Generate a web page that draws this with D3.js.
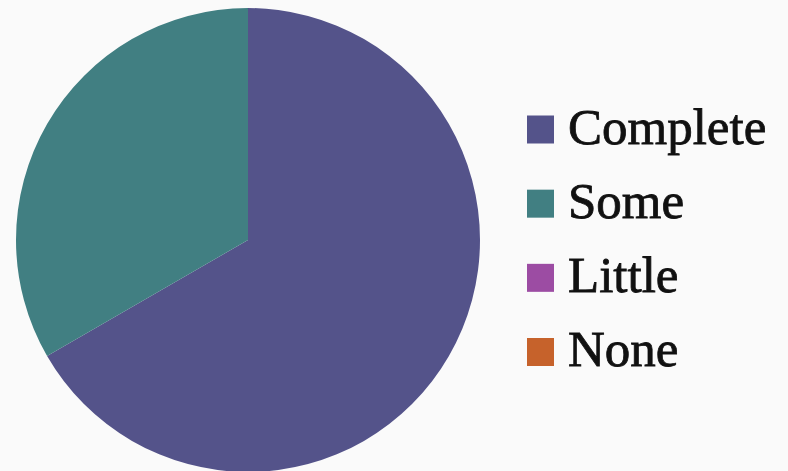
<!DOCTYPE html>
<html><head><meta charset="utf-8">
<script src="https://cdn.jsdelivr.net/npm/d3@7"></script>
<style>html,body{margin:0;padding:0;background:#fafafa;}svg{display:block;}</style>
</head><body>
<svg id="chart" width="788" height="471"></svg>
<script>
const categories = ["Complete", "Some", "Little", "None"];
const values = [2, 1, 0, 0];
const colors = ["#54538a", "#417f82", "#9c4ca3", "#c6622b"];

const svg = d3.select("#chart");
const cx = 248, cy = 240, r = 232;
const color = d3.scaleOrdinal().domain(categories).range(colors);
const pie = d3.pie().sort(null).value(d => d.v);
const arc = d3.arc().innerRadius(0).outerRadius(r);
const data = categories.map((c, i) => ({c, v: values[i]}));

svg.append("g").attr("transform", `translate(${cx},${cy})`)
  .selectAll("path").data(pie(data)).join("path")
  .attr("d", arc).attr("fill", d => color(d.data.c));

const ly = d3.scalePoint().domain(categories).range([129.5, 352]);
const leg = svg.append("g").selectAll("g").data(categories).join("g")
  .attr("transform", d => `translate(527,${ly(d)})`);
leg.append("rect").attr("x", 0).attr("y", -14).attr("width", 27).attr("height", 28)
  .attr("fill", d => color(d));
leg.append("text").attr("x", 41).attr("y", 14)
  .style("font-family", "'Liberation Serif', serif").style("font-size", "51px")
  .attr("fill", "#111").attr("stroke", "#111").attr("stroke-width", 0.8)
  .text(d => d);
</script>
</body></html>
